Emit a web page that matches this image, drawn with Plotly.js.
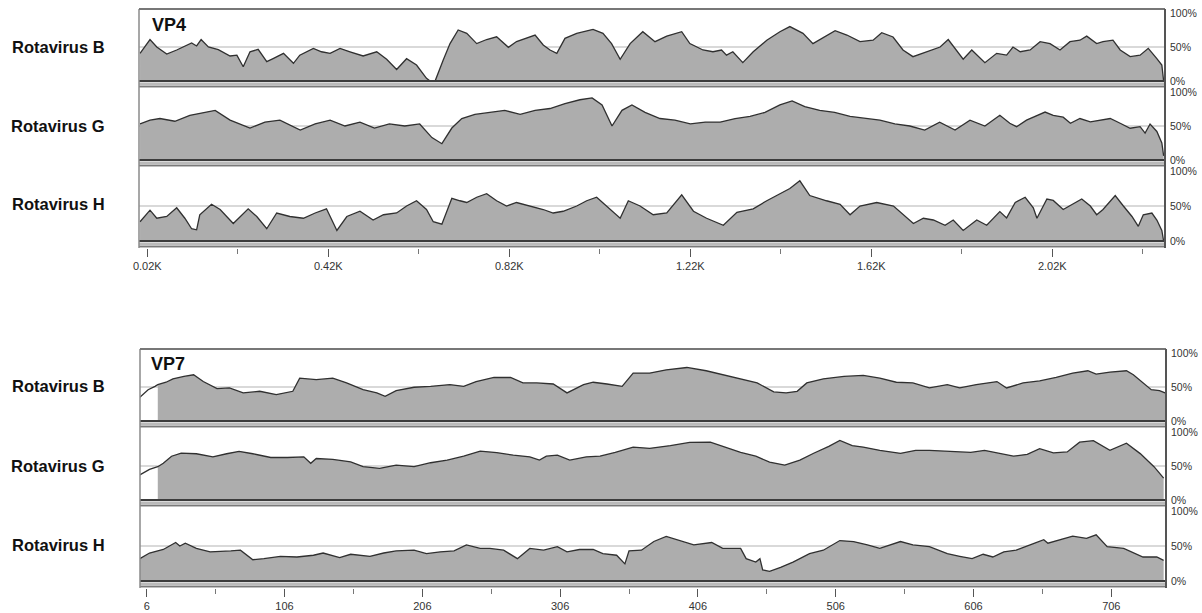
<!DOCTYPE html>
<html>
<head>
<meta charset="utf-8">
<script src="https://cdn.plot.ly/plotly-3.0.1.min.js"></script>
<style>html,body{margin:0;padding:0;background:#fff}#chart{width:1202px;height:613px}</style>
</head>
<body>
<div id="chart"></div>
<script>
// ---------------- DATA ----------------
const genes = ['VP4', 'VP7'];
const viruses = ['Rotavirus B', 'Rotavirus G', 'Rotavirus H'];

const vp4TickVals = [20, 420, 820, 1220, 1620, 2020];
const vp4TickText = ['0.02K', '0.42K', '0.82K', '1.22K', '1.62K', '2.02K'];
const vp7TickVals = [6, 106, 206, 306, 406, 506, 606, 706];
const vp7TickText = ['6', '106', '206', '306', '406', '506', '606', '706'];
const yTickVals = [0, 50, 100];
const yTickText = ['0%', '50%', '100%'];

// VP4 – similarity (%) along the alignment
const vp4Pos_B = [4, 26, 41, 63, 85, 100, 118, 129, 139, 155, 177, 203, 218, 232, 247, 265, 284, 298, 321, 343, 357, 387, 405, 424, 446, 468, 497, 527, 549, 571, 593, 615, 637, 645, 656, 674, 689, 707, 726, 748, 770, 792, 818, 836, 858, 877, 895, 910, 925, 943, 969, 1005, 1027, 1046, 1065, 1087, 1115, 1142, 1168, 1201, 1219, 1248, 1270, 1289, 1300, 1314, 1336, 1359, 1389, 1418, 1440, 1469, 1491, 1513, 1540, 1566, 1595, 1624, 1643, 1668, 1690, 1712, 1742, 1772, 1790, 1823, 1842, 1871, 1897, 1919, 1933, 1949, 1971, 1993, 2015, 2037, 2059, 2081, 2096, 2118, 2132, 2154, 2170, 2192, 2214, 2232, 2251, 2262, 2266];
const vp4Sim_B = [40.7, 61, 50, 39.7, 45.6, 50, 56, 51.5, 61, 50, 46, 36.8, 38, 21, 43, 46.6, 28.4, 33, 40.7, 26, 38, 48, 43, 40.7, 48, 43, 36.8, 43, 32, 17, 32.8, 23.5, 4, 0, 0, 31, 55, 75, 70, 55, 61, 65, 49.5, 58, 62.7, 67.6, 53, 45.6, 40.7, 62.7, 70, 76, 70, 55, 32, 55, 72.5, 57.8, 66, 72.5, 55, 45.6, 43, 45.6, 38, 43, 27, 43, 60, 72.5, 80, 70, 55, 64, 74, 67.6, 58, 60, 71, 64.7, 45.6, 35.8, 43, 50, 61, 32, 45.6, 27, 40.7, 38, 50, 43, 45.6, 57.8, 55, 45.6, 57.8, 60, 66, 55, 57.8, 60, 45.6, 35.8, 38, 48, 33, 23.5, 0];

const vp4Pos_G = [4, 26, 48, 81, 114, 148, 170, 203, 247, 280, 313, 358, 391, 424, 457, 490, 522, 555, 589, 622, 649, 671, 693, 715, 744, 777, 810, 844, 877, 910, 943, 976, 1003, 1025, 1047, 1069, 1091, 1120, 1153, 1186, 1220, 1253, 1286, 1319, 1352, 1385, 1418, 1445, 1473, 1506, 1539, 1573, 1606, 1639, 1672, 1705, 1738, 1771, 1805, 1838, 1871, 1904, 1926, 1941, 1963, 1986, 2004, 2022, 2044, 2060, 2081, 2104, 2126, 2148, 2170, 2192, 2214, 2225, 2236, 2251, 2262, 2266];
const vp4Sim_G = [53, 58.6, 61, 57, 65.7, 70, 73, 58.6, 47, 55.7, 58.6, 44, 53, 58.6, 50, 55.7, 47, 53, 50, 53, 33, 24, 47, 61, 67, 70, 73, 67, 73, 75.7, 83, 88.6, 91.4, 81, 50, 73, 81, 70, 61, 58.6, 53, 55.7, 55.7, 61, 64, 70, 81, 87, 78.6, 73, 70, 64, 61, 58.6, 53, 50, 44, 55.7, 44, 58.6, 50, 65.7, 54, 49, 58.6, 65.7, 70.5, 65.7, 63, 54, 61, 56, 58.6, 61, 54, 46.7, 49, 39.5, 52.9, 42, 25, 6];

const vp4Pos_H = [4, 26, 41, 63, 85, 103, 118, 129, 136, 162, 181, 210, 243, 262, 284, 306, 335, 365, 391, 416, 439, 461, 490, 519, 542, 571, 593, 615, 637, 652, 671, 693, 711, 726, 748, 770, 792, 814, 836, 866, 895, 917, 939, 969, 991, 1013, 1035, 1065, 1083, 1109, 1138, 1168, 1201, 1227, 1256, 1293, 1323, 1359, 1389, 1418, 1440, 1462, 1484, 1521, 1551, 1573, 1595, 1632, 1669, 1713, 1735, 1757, 1783, 1801, 1823, 1853, 1875, 1904, 1919, 1938, 1960, 1978, 1986, 2008, 2022, 2044, 2066, 2085, 2104, 2118, 2132, 2159, 2177, 2196, 2210, 2221, 2240, 2251, 2262, 2266];
const vp4Sim_H = [27.5, 44, 32.5, 35, 47.5, 32.5, 17.5, 16, 37.5, 52.5, 45, 25, 46, 35, 17.5, 40, 35, 32.5, 40, 46, 15, 35, 42.5, 30, 37.5, 40, 50, 57.5, 45, 27.5, 24, 61, 57.5, 55, 62.5, 67.5, 57.5, 50, 55, 50, 45, 40, 42.5, 50, 57.5, 62.5, 50, 32.5, 57.5, 50, 37.5, 40, 66, 42.5, 32.5, 22.5, 41, 46, 57.5, 67.5, 75, 86, 65, 57.5, 52.5, 37.5, 50, 55, 50, 25, 32.5, 30, 22.5, 30, 15, 30, 22.5, 42, 33, 55, 62.5, 47.5, 32.5, 60, 58, 45, 52.5, 60, 50, 37.5, 45, 65, 50, 35, 21, 37.5, 40, 30, 15, 0];

// VP7 – similarity (%) along the alignment
const vp7Pos_B = [1, 7, 12, 14, 20, 25, 33, 40, 47, 57, 66, 76, 88, 100, 112, 117, 129, 141, 151, 163, 173, 179, 187, 200, 212, 226, 236, 245, 258, 270, 279, 289, 301, 311, 323, 330, 340, 351, 359, 371, 383, 398, 412, 424, 437, 449, 461, 470, 478, 485, 497, 512, 526, 538, 550, 562, 574, 587, 596, 608, 623, 630, 642, 654, 666, 678, 689, 695, 705, 717, 722, 729, 735, 741, 745];
const vp7Sim_B = [35, 46, 51, 53.5, 57, 62, 65.6, 68, 58, 47.6, 48.6, 41.3, 43.7, 38.9, 43.7, 63, 60.7, 63, 56, 46, 41.3, 36.4, 44.7, 49.6, 51, 53.5, 51, 58, 64, 64, 56, 56, 54.4, 41.3, 53.5, 57, 54.4, 51, 70.5, 70.5, 75.3, 78.7, 73.9, 68, 62, 56, 42.8, 41.3, 43.7, 56, 62, 65.6, 67, 63, 57, 56, 48.6, 53.5, 48.6, 53.5, 58, 48.6, 56, 59, 64, 70.5, 73.9, 69, 72, 73.9, 68, 56, 46, 44.7, 41.3];

const vp7Pos_G = [1, 8, 14, 18, 24, 31, 42, 54, 64, 73, 83, 96, 108, 120, 125, 129, 141, 154, 163, 175, 187, 200, 212, 224, 236, 248, 260, 272, 284, 291, 296, 304, 313, 325, 335, 346, 359, 371, 386, 400, 415, 426, 437, 448, 458, 469, 480, 490, 501, 509, 518, 526, 538, 553, 564, 574, 589, 604, 614, 625, 635, 645, 654, 664, 674, 683, 693, 705, 717, 727, 737, 744];
const vp7Sim_G = [37, 45, 49, 54, 64.4, 69, 68, 63.5, 68, 71.6, 68, 62.5, 62.5, 63.5, 54, 61, 59.6, 56, 49, 46.6, 51.4, 49, 54.8, 58.6, 64.4, 72, 69.7, 65.9, 63.5, 58.6, 64.4, 65.9, 58.6, 63.5, 64.4, 70, 77.8, 76, 80, 84.6, 85, 77.4, 70, 64.4, 55.8, 51.4, 58.6, 68.7, 78.8, 87.5, 80, 77.8, 73, 68.7, 73, 73, 71.6, 70, 73, 68.2, 64.4, 67.2, 75.4, 69.2, 70.6, 85, 87.4, 73, 83.6, 68.2, 49, 32.2];

const vp7Pos_H = [1, 8, 18, 27, 30, 34, 42, 52, 67, 74, 83, 91, 103, 115, 127, 134, 146, 154, 168, 178, 187, 200, 209, 219, 229, 238, 248, 255, 265, 275, 284, 294, 304, 311, 320, 330, 337, 347, 353, 356, 365, 374, 383, 393, 403, 416, 424, 437, 441, 448, 451, 453, 458, 466, 475, 487, 497, 509, 519, 529, 538, 553, 562, 574, 587, 596, 605, 613, 620, 628, 637, 649, 657, 660, 669, 678, 688, 695, 703, 715, 729, 739, 744];
const vp7Sim_H = [31.9, 40, 45, 55, 50, 54, 46.6, 41.7, 43, 44, 30.4, 31.9, 35.3, 34.3, 36.8, 40, 33.3, 38.2, 35.3, 40, 43, 44, 39, 41.7, 43, 51.5, 46.6, 46.6, 44, 31.9, 46.6, 44, 49, 41.7, 45, 45, 39, 36.8, 24.5, 43, 44, 56.4, 63.7, 57.8, 51.5, 55, 46.6, 46.6, 31.9, 27, 31.9, 15.7, 13.7, 19.6, 27, 39, 44, 57.8, 56.4, 51.5, 46.6, 56.4, 51.5, 49, 39, 35.3, 31.9, 38.2, 34.3, 41.7, 44, 53, 59, 54, 59, 64, 61, 66, 49, 46.6, 34.3, 34.3, 29.4];

// position where the shaded area begins (first positions are unshaded)
const vp4FillFrom = [0, 0, 0];
const vp7FillFrom = [14, 14, 0];

// ---------------- STYLE / GEOMETRY ----------------
const W = 1202, H = 613;
const FONT = 'Arial, "Liberation Sans", sans-serif';
const geo = {
  VP4: {left: 139, right: 1165, tops: [9, 88, 167], bottoms: [88, 167, 248], xRange: [1.7, 2269],
        tickVals: vp4TickVals, tickText: vp4TickText, minor0: 20, minorD: 200,
        labelY: [47, 126, 204], geneLabel: {x: 150, y: 24.5},
        series: [[vp4Pos_B, vp4Sim_B], [vp4Pos_G, vp4Sim_G], [vp4Pos_H, vp4Sim_H]], fillFrom: vp4FillFrom},
  VP7: {left: 140, right: 1166, tops: [349, 428, 507], bottoms: [428, 507, 588], xRange: [1.1, 745.7],
        tickVals: vp7TickVals, tickText: vp7TickText, minor0: 6, minorD: 50,
        labelY: [386, 466, 545], geneLabel: {x: 149, y: 363.5},
        series: [[vp7Pos_B, vp7Sim_B], [vp7Pos_G, vp7Sim_G], [vp7Pos_H, vp7Sim_H]], fillFrom: vp7FillFrom}
};
const px = v => v / W;
const py = v => 1 - v / H;

const layout = {
  width: W, height: H, margin: {l: 0, r: 0, t: 0, b: 0},
  showlegend: false, paper_bgcolor: '#ffffff', plot_bgcolor: 'rgba(0,0,0,0)',
  font: {family: FONT, color: '#333'},
  shapes: [], annotations: []
};
const traces = [];

let k = 0;
genes.forEach(g => {
  const G = geo[g];
  viruses.forEach((vname, vi) => {
    k++;
    const sfx = k === 1 ? '' : String(k);
    const xr = 'x' + sfx, yr = 'y' + sfx;
    const top = G.tops[vi], bot = G.bottoms[vi];
    const base = bot - 7, full = top + 4;
    const s = (base - full) / 100;
    const hi = (base - top) / s, lo = -(bot - base) / s;
    const isBottom = vi === 2;

    layout['yaxis' + sfx] = {
      domain: [py(bot), py(top)], range: [lo, hi], anchor: xr, side: 'right',
      tickmode: 'array', tickvals: yTickVals, ticktext: yTickText, ticks: '',
      showgrid: false, zeroline: false, showline: false, fixedrange: true,
      ticklabelstandoff: 4, tickfont: {family: FONT, size: 10.5, color: '#333'}
    };
    const xa = {
      domain: [px(G.left), px(G.right)], range: G.xRange, anchor: yr,
      showgrid: false, zeroline: false, showline: false, fixedrange: true,
      showticklabels: isBottom, ticks: isBottom ? 'outside' : '',
      tickmode: 'array', tickvals: G.tickVals, ticktext: G.tickText,
      ticklen: 8, tickwidth: 1, tickcolor: '#555',
      tickfont: {family: FONT, size: 11, color: '#333'}
    };
    if (isBottom) {
      xa.minor = {tickmode: 'linear', tick0: G.minor0, dtick: G.minorD, ticks: 'outside',
                  ticklen: 5, tickwidth: 1, tickcolor: '#777', showgrid: false};
    }
    layout['xaxis' + sfx] = xa;

    // data
    const [pos, sim] = G.series[vi];
    const ff = G.fillFrom[vi];
    const fx = [], fy = [];
    pos.forEach((p, i) => { if (p >= ff) { fx.push(p); fy.push(sim[i]); } });
    traces.push({type: 'scatter', mode: 'lines', x: fx, y: fy, xaxis: xr, yaxis: yr,
                 fill: 'tozeroy', fillcolor: '#adadad', line: {width: 0}, hoverinfo: 'skip'});
    traces.push({type: 'scatter', mode: 'lines', x: pos, y: sim, xaxis: xr, yaxis: yr,
                 line: {color: '#303030', width: 1.3}, hoverinfo: 'skip'});

    // 50% reference line
    layout.shapes.push({type: 'line', xref: xr + ' domain', yref: yr, x0: 0, x1: 1, y0: 50, y1: 50,
                        line: {color: '#cdcdcd', width: 1.5}, layer: 'below'});
    // baseline band
    layout.shapes.push({type: 'rect', xref: 'paper', yref: 'paper', x0: px(G.left), x1: px(G.right),
                        y0: py(bot), y1: py(base), fillcolor: '#dadada', line: {width: 0}});
    layout.shapes.push({type: 'line', xref: 'paper', yref: 'paper', x0: px(G.left), x1: px(G.right),
                        y0: py(base + 3), y1: py(base + 3), line: {color: '#9a9a9a', width: 1}});
    layout.shapes.push({type: 'line', xref: 'paper', yref: 'paper', x0: px(G.left), x1: px(G.right),
                        y0: py(bot - 1.5), y1: py(bot - 1.5), line: {color: '#7a7a7a', width: 1.5}});
    layout.shapes.push({type: 'line', xref: 'paper', yref: 'paper', x0: px(G.left), x1: px(G.right),
                        y0: py(base), y1: py(base), line: {color: '#3c3c3c', width: 2}});

    // row label
    layout.annotations.push({xref: 'paper', yref: 'paper', x: px(58), y: py(G.labelY[vi]),
      text: vname, showarrow: false, xanchor: 'center', yanchor: 'middle',
      font: {family: FONT, size: 16.5, color: '#111', weight: 'bold'}});
  });

  // frame
  const t = G.tops[0], b = G.bottoms[2];
  layout.shapes.push({type: 'line', xref: 'paper', yref: 'paper', x0: px(G.left), x1: px(G.left),
                      y0: py(b), y1: py(t), line: {color: '#8a8a8a', width: 1.5}});
  layout.shapes.push({type: 'line', xref: 'paper', yref: 'paper', x0: px(G.left), x1: px(G.right),
                      y0: py(t), y1: py(t), line: {color: '#777', width: 2}});
  layout.shapes.push({type: 'line', xref: 'paper', yref: 'paper', x0: px(G.right), x1: px(G.right),
                      y0: py(b), y1: py(t), line: {color: '#555', width: 2}});
  // gene label
  layout.annotations.push({xref: 'paper', yref: 'paper', x: px(G.geneLabel.x), y: py(G.geneLabel.y),
    text: g, showarrow: false, xanchor: 'left', yanchor: 'middle',
    font: {family: FONT, size: 18, color: '#111', weight: 'bold'}});
});

Plotly.newPlot('chart', traces, layout, {staticPlot: true, displayModeBar: false});
</script>
</body>
</html>
